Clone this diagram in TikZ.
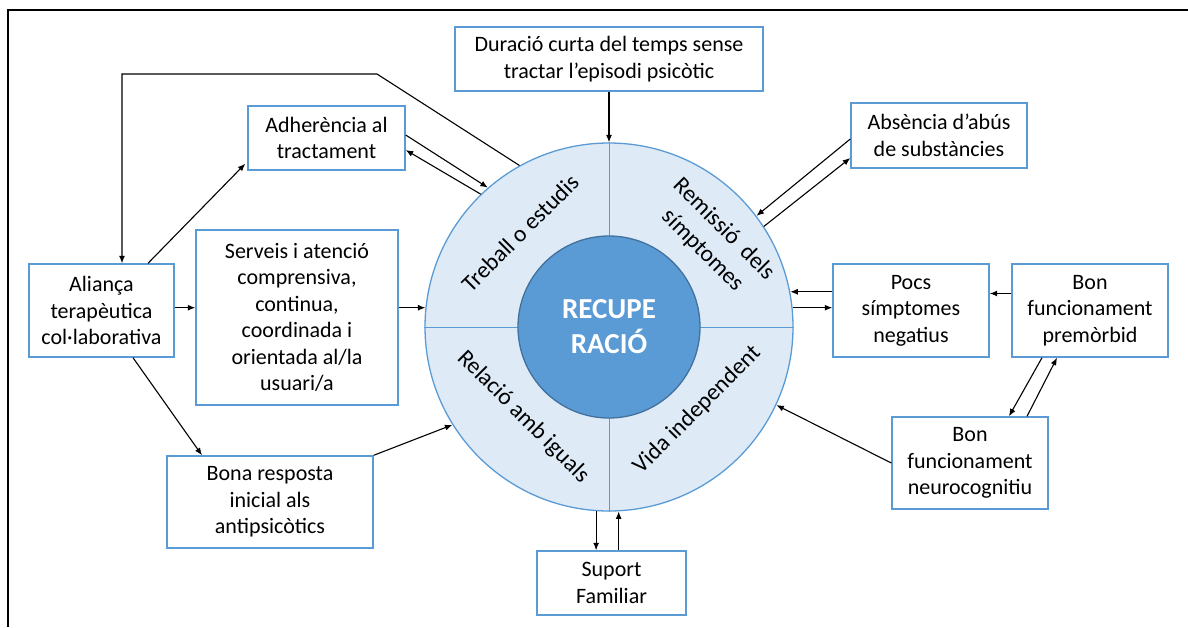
\documentclass[tikz,border=0pt]{standalone}
\usepackage{fontspec}
\setmainfont{Carlito}
\usetikzlibrary{arrows.meta,calc}
\definecolor{officeblue}{HTML}{5B9BD5}
\definecolor{ringfill}{HTML}{DEEBF7}
\definecolor{coreline}{HTML}{41719C}
\begin{document}
\begin{tikzpicture}[x=1pt,y=-1pt,
  factor/.style={draw=officeblue, line width=1.4pt, fill=white, inner sep=0pt,
    align=center, font=\fontsize{22}{26.5}\selectfont},
  link/.style={-{Latex[length=7.5pt,width=6pt]}, line width=1.1pt},
  sector/.style={align=center, font=\fontsize{23.5}{30}\selectfont}]
\useasboundingbox (0,0) rectangle (1188,627);
% page frame
\draw[line width=2pt] (8,627) -- (8,10) -- (1188,10);

% central ring with its four sectors
\node[circle, minimum size=368pt, inner sep=0pt, draw=officeblue, fill=ringfill,
  line width=1.3pt] (ring) at (609,327) {};
\draw[officeblue, line width=0.9pt] (ring.north) -- (ring.south) (ring.west) -- (ring.east);
\node[circle, minimum size=182pt, inner sep=0pt, draw=coreline, fill=officeblue,
  line width=1.3pt, text=white, align=center,
  font=\bfseries\fontsize{29}{35}\selectfont] (core) at (ring.center) {RECUPE\\RACIÓ};

\node[sector, rotate=45] (work) at (520,233) {Treball o estudis};
\node[sector, rotate=-45] (remit) at (713,240) {Remissió\hspace{0.2em} dels\\símptomes};
\node[sector, rotate=-45] (peers) at (523,417) {Relació amb iguals};
\node[sector, rotate=45] (indep) at (697,410) {Vida independent};

% factors
\node[factor, minimum width=308pt, minimum height=64pt] (dur) at (609,59)
  {Duració curta del temps sense\\tractar l’episodi psicòtic};
\node[factor, minimum width=157pt, minimum height=64pt] (adh) at (326.5,138)
  {Adherència al\\tractament};
\node[factor, minimum width=176pt, minimum height=65pt] (abs) at (939,135.5)
  {Absència d’abús\\de substàncies};
\node[factor, minimum width=145pt, minimum height=93pt] (ali) at (101.5,310.5)
  {Aliança\\terapèutica\\col·laborativa};
\node[factor, minimum width=202pt, minimum height=175pt] (serv) at (297,317.5)
  {Serveis i atenció\\comprensiva,\\continua,\\coordinada i\\orientada al/la\\usuari/a};
\node[factor, minimum width=206pt, minimum height=92pt] (bona) at (270,502)
  {Bona resposta\\inicial als\\antipsicòtics};
\node[factor, minimum width=156pt, minimum height=93pt] (pocs) at (911,310.5)
  {Pocs\\símptomes\\negatius};
\node[factor, minimum width=156pt, minimum height=93pt] (prem) at (1090,310.5)
  {Bon\\funcionament\\premòrbid};
\node[factor, minimum width=156pt, minimum height=92pt] (neuro) at (970,463)
  {Bon\\funcionament\\neurocognitiu};
\node[factor, minimum width=149pt, minimum height=64pt] (sup) at (611.5,583)
  {Suport\\Familiar};

% connectors
\draw[link] (dur.south) -- (ring.north);
\coordinate (bendR) at (377,74);
\coordinate (bendL) at (122,74);
\draw[link] (ring.119.6) -- (bendR) -- (bendL) -- (bendL |- ali.north);
\draw[link] ([xshift=46.5pt]ali.north) -- ([xshift=-2pt,yshift=7pt]adh.south west);
\draw[link] ([yshift=3pt]adh.east) -- (ring.131.1);
\draw[link] (ring.134.6) -- ([yshift=-12pt]adh.east);
\draw[link] (ali.east |- ring.174) -- (serv.west |- ring.174);
\draw[link] (serv.east |- ring.174) -- (ring.174);
\draw[link] ([xshift=31.5pt]ali.south) -- ([xshift=-68pt]bona.north);
\draw[link] (bona.north east) -- (ring.212.4);
\draw[link] (ring.266.9) -- (ring.266.9 |- sup.north);
\draw[link] (sup.north -| ring.273.7) -- (ring.273.7);
\draw[link] ([yshift=-3.5pt]abs.west) -- (ring.37.6);
\draw[link] (ring.33.2) -- ([yshift=-22.5pt]abs.west);
\draw[link] (pocs.west |- ring.11.7) -- (ring.11.7);
\draw[link] (ring.6.8) -- (pocs.west |- ring.6.8);
\draw[link] ([yshift=17pt]prem.west) -- ([yshift=17pt]pocs.east);
\draw[link] ([xshift=-48pt]prem.south) -- ([xshift=39pt]neuro.north);
\draw[link] ([xshift=57pt]neuro.north) -- ([xshift=-33pt]prem.south);
\draw[link] (neuro.west) -- (ring.-25.3);
\end{tikzpicture}
\end{document}
